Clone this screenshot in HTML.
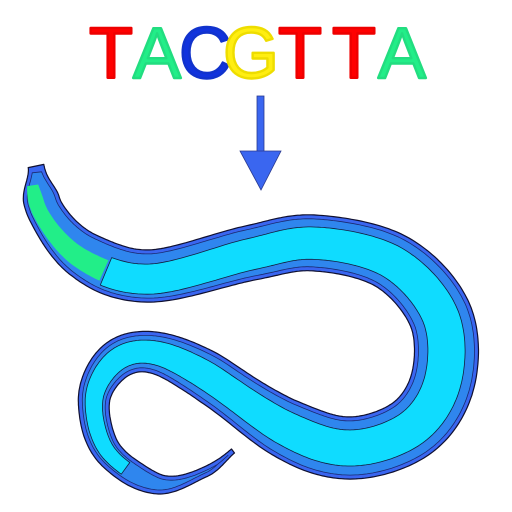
<!DOCTYPE html>
<html><head><meta charset="utf-8"><style>
html,body{margin:0;padding:0;background:#fff;width:512px;height:512px;overflow:hidden}
svg{display:block}
</style></head><body>
<svg id="s" width="512" height="512" viewBox="0 0 512 512" xmlns="http://www.w3.org/2000/svg">
<g font-family="Liberation Sans, sans-serif" font-size="72" text-anchor="middle" stroke-width="2.4" stroke-linejoin="round">
<text x="111" y="78" fill="#ff0000" stroke="#ee0000">T</text>
<text x="157" y="78" fill="#22ee88" stroke="#22dd80">A</text>
<text x="205" y="78" fill="#1133dd" stroke="#1133cc">C</text>
<text x="251" y="78" fill="#ffee11" stroke="#eedd00">G</text>
<text x="300" y="78" fill="#ff0000" stroke="#ee0000">T</text>
<text x="354" y="78" fill="#ff0000" stroke="#ee0000">T</text>
<text x="402" y="78" fill="#22ee88" stroke="#22dd80">A</text>
</g>
<g fill="#3a66f0" stroke="#2a3a90" stroke-width="0.8">
<rect x="257" y="96" width="7" height="56"/>
<polygon points="240,151 281,151 261,190"/>
</g>
<g id="worm"></g>
</svg>
<script>
const pts=[[36,166],[46,212],[85,256],[150,276],[250,253],[315,243],[392,262],[440,315],[443,380],[412,428],[350,448],[285,428],[200,372],[150,352],[114,362],[94,400],[108,452],[158,484],[205,472],[233,451]];
const wT=[0,0.03,0.12,0.3,0.45,0.6,0.7,0.78,0.85,0.9,0.97,1];
const wV=[14,34,50,54,62,60,48,38,28,24,8,3];
function cr(p,n){const out=[];for(let i=0;i<p.length-1;i++){const p0=p[Math.max(i-1,0)],p1=p[i],p2=p[i+1],p3=p[Math.min(i+2,p.length-1)];for(let k=0;k<n;k++){const t=k/n,t2=t*t,t3=t2*t;out.push([0,1].map(j=>0.5*((2*p1[j])+(-p0[j]+p2[j])*t+(2*p0[j]-5*p1[j]+4*p2[j]-p3[j])*t2+(-p0[j]+3*p1[j]-3*p2[j]+p3[j])*t3)));}}out.push(p[p.length-1]);return out;}
const S=cr(pts,30);const N=S.length;
const cum=[0];for(let i=1;i<N;i++)cum.push(cum[i-1]+Math.hypot(S[i][0]-S[i-1][0],S[i][1]-S[i-1][1]));
const TOT=cum[N-1];
function width(t){for(let i=0;i<wT.length-1;i++){if(t<=wT[i+1]){const u=(t-wT[i])/(wT[i+1]-wT[i]);const s=(1-Math.cos(u*Math.PI))/2;return wV[i]+(wV[i+1]-wV[i])*s;}}return wV[wV.length-1];}
function gutOff(t){return t<0.3?6*(1-t/0.3):0;}
function outline(f,a,b,off){const L=[],R=[];for(let i=0;i<N;i++){const t=cum[i]/TOT;if(t<a||t>b)continue;const p=S[i],q=S[Math.min(i+1,N-1)],o=S[Math.max(i-1,0)];let dx=q[0]-o[0],dy=q[1]-o[1];const l=Math.hypot(dx,dy)||1;const nx=-dy/l,ny=dx/l,w=Math.max(f(t),0)/2;const c=off?off(t):0;L.push([p[0]+nx*(c+w),p[1]+ny*(c+w)]);R.push([p[0]+nx*(c-w),p[1]+ny*(c-w)]);}return 'M'+L.concat(R.reverse()).map(p=>p[0].toFixed(1)+','+p[1].toFixed(1)).join('L')+'Z';}
const g=document.getElementById('worm');
function add(d,fill,stroke,sw,name){const e=document.createElementNS('http://www.w3.org/2000/svg','path');e.setAttribute('d',d);e.setAttribute('fill',fill);e.setAttribute('stroke',stroke);e.setAttribute('stroke-width',sw);e.setAttribute('stroke-linejoin','round');


g.appendChild(e);}
add(outline(t=>width(t)+2,0,1),'#3a66f0','#101030',1.2,'worm-outer-body');
add(outline(t=>width(t)-6,0.005,0.995),'#2f86ee','#1a2a70',0.8,'worm-body');
add(outline(t=>width(t)*0.6,0.11,0.9,gutOff),'#0fdcff','#102040',0.8,'worm-gut');
add(outline(t=>width(t)*0.45,0.015,0.11,gutOff),'#22ee88','none',0,'worm-pharynx');
</script>
</body></html>
